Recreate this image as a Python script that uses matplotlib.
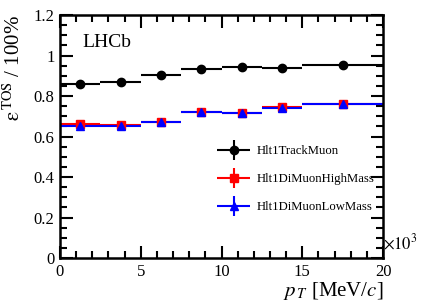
import numpy as np
import matplotlib
matplotlib.use("Agg")
import matplotlib.pyplot as plt
from matplotlib.ticker import MultipleLocator
from matplotlib.container import ErrorbarContainer
from matplotlib.legend_handler import HandlerErrorbar

plt.rcParams['font.family'] = ['Liberation Serif', 'DejaVu Serif']
plt.rcParams['mathtext.fontset'] = 'stix'

# pT bin edges in units of 10^3 MeV/c
edges = np.array([0, 2.5, 5, 7.5, 10, 12.5, 15, 20])
centers = 0.5 * (edges[1:] + edges[:-1])
halfw = 0.5 * (edges[1:] - edges[:-1])

track_muon = [0.858, 0.871, 0.904, 0.933, 0.942, 0.937, 0.951]
track_err = [0.004, 0.004, 0.004, 0.004, 0.004, 0.004, 0.004]
dimuon_high = [0.660, 0.657, 0.673, 0.722, 0.717, 0.744, 0.762]
high_err = [0.004, 0.004, 0.004, 0.004, 0.004, 0.004, 0.004]
dimuon_low = [0.651, 0.653, 0.671, 0.721, 0.716, 0.743, 0.761]
low_err = [0.004, 0.004, 0.004, 0.004, 0.004, 0.004, 0.004]

fig = plt.figure(figsize=(4.27, 3.07), dpi=100)
ax = fig.add_axes([0.1405, 0.1596, 0.7565, 0.7915])

ax.errorbar(centers, track_muon, xerr=halfw, yerr=track_err, fmt='o', color='black',
            ms=6, lw=1.5, capsize=0, label='Hlt1TrackMuon')
ax.errorbar(centers, dimuon_high, xerr=halfw, yerr=high_err, fmt='s', color='red',
            ms=6, lw=1.5, capsize=0, label='Hlt1DiMuonHighMass')
ax.errorbar(centers, dimuon_low, xerr=halfw, yerr=low_err, fmt='^', color='blue',
            ms=6, lw=1.5, capsize=0, label='Hlt1DiMuonLowMass')

ax.set_xlim(0, 20)
ax.set_ylim(0, 1.2)
ax.xaxis.set_major_locator(MultipleLocator(5))
ax.xaxis.set_minor_locator(MultipleLocator(1))
ax.yaxis.set_minor_locator(MultipleLocator(0.05))
ax.set_yticks([0, 0.2, 0.4, 0.6, 0.8, 1, 1.2])
ax.set_yticklabels(['0', '0.2', '0.4', '0.6', '0.8', '1', '1.2'])
ax.tick_params(which='both', direction='in', top=True, right=True, labelsize=12, width=1.5)
ax.tick_params(which='major', length=9, pad=4)
ax.tick_params(which='minor', length=5)
for s in ax.spines.values():
    s.set_linewidth(1.8)

ax.set_xlabel(r'$p_{\,T}$ [MeV/$c$]', fontsize=15, loc='right', labelpad=0)
ax.set_ylabel(r'$\mathrm{\varepsilon}^{\,\rm TOS}$ / 100%', fontsize=15, loc='top', labelpad=6)
ax.text(1.0, 0.02, r'$\times10^{3}$', transform=ax.transAxes, fontsize=12,
        ha='left', va='bottom')
ax.text(0.07, 0.87, 'LHCb', transform=ax.transAxes, fontsize=14)

ax.legend(loc='upper left', bbox_to_anchor=(0.47, 0.485), frameon=False,
          fontsize=9.2, handlelength=2.6, handletextpad=0.5, labelspacing=1.25,
          borderaxespad=0,
          handler_map={ErrorbarContainer: HandlerErrorbar(xerr_size=1.3, yerr_size=0.8)})

fig.savefig('out.png', dpi=100)
